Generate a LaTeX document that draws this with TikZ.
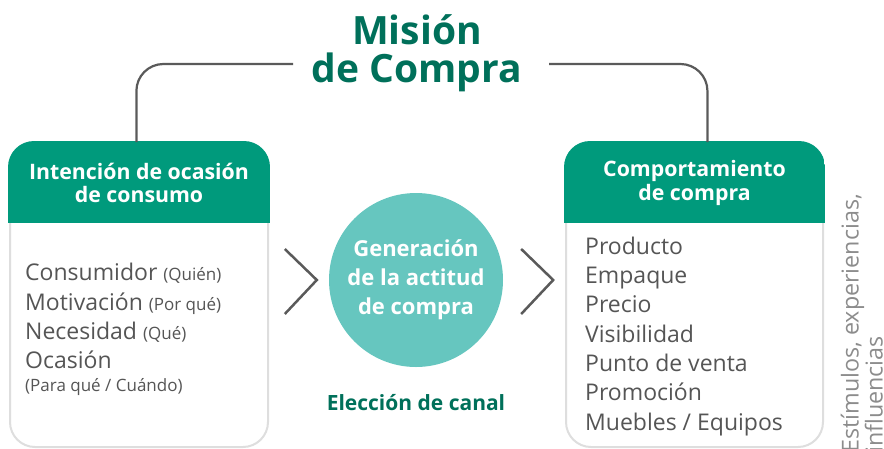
\documentclass[tikz,border=0pt]{standalone}
\usepackage{fontspec}
\setmainfont{Open Sans}
\usetikzlibrary{positioning, calc}
\definecolor{hdrgreen}{HTML}{009A7C}
\definecolor{titlegreen}{HTML}{00705A}
\definecolor{bubblecol}{HTML}{66C6BF}
\definecolor{bodygray}{HTML}{555555}
\definecolor{framegray}{HTML}{DEDEDE}
\definecolor{linegray}{HTML}{5A5A5A}
\definecolor{sidegray}{HTML}{8C8C8C}
\newcommand\smallnote[1]{{\fontsize{17}{20}\selectfont #1}}
\tikzset{
  panel/.style={rectangle,draw=framegray,line width=2pt,rounded corners=25pt,
    fill=white,minimum height=304pt,inner sep=0pt},
  hdrtext/.style={align=center,text=white,inner sep=0pt,
    font=\bfseries\fontsize{21.3}{23.5}\selectfont},
  items/.style={anchor=base west,align=left,inner sep=0pt,text=bodygray,
    font=\fontsize{23}{29.3}\selectfont},
  bubble/.style={circle,fill=bubblecol,minimum size=174pt,inner sep=0pt,
    align=center,text=white,font=\bfseries\fontsize{22}{29}\selectfont},
  title/.style={align=center,text=titlegreen,inner sep=0pt,
    font=\bfseries\fontsize{39}{38}\selectfont},
  side/.style={rotate=90,align=left,inner sep=0pt,text=sidegray,
    font=\fontsize{23.3}{24}\selectfont},
  link/.style={draw=linegray,line width=2.2pt,rounded corners=27pt},
  chev/.style={draw=linegray,line width=2.5pt}
}

\begin{document}
\begin{tikzpicture}[x=1pt,y=-1pt]
\useasboundingbox (0,0) rectangle (884,448);
% panels
\node[panel,minimum width=258pt,anchor=north west] (intent) at (9,142) {};
\node[panel,minimum width=257pt,anchor=north west] (behav) at (565,142) {};
\foreach \p in {intent,behav}{
  \begin{scope}
    \clip[rounded corners=26pt] ($(\p.north west)+(-1,-1)$) rectangle ($(\p.south east)+(1,1)$);
    \fill[hdrgreen] ($(\p.north west)+(-1,-1)$) rectangle ($(\p.north east)+(1,81)$);
  \end{scope}
}
\node[hdrtext] (intenthdr) at ($(intent.north)+(0,41)$) {Intención de ocasión\\de consumo};
\node[hdrtext] (behavhdr) at ($(behav.north)+(0,41)$) {Comportamiento\\de compra};
% lists
\node[items] (intentlist) at (25,391) {Consumidor \smallnote{(Quién)}\\Motivación \smallnote{(Por qué)}\\Necesidad \smallnote{(Qué)}\\Ocasión\\[-7pt]\smallnote{(Para qué / Cuándo)}};
\node[items] (behavlist) at (585,430) {Producto\\Empaque\\Precio\\Visibilidad\\Punto de venta\\Promoción\\Muebles / Equipos};
% middle
\node[bubble] (attitude) at (416,280) {Generación\\de la actitud\\de compra};
\node[below=27pt of attitude,inner sep=0pt,text=titlegreen,
  font=\bfseries\fontsize{21}{24}\selectfont] (canal) {Elección de canal};
\draw[chev] ($(attitude.west)+(-44,-31)$) -- ($(attitude.west)+(-12,0)$) -- ($(attitude.west)+(-44,34)$);
\draw[chev] ($(attitude.east)+(18,-31)$) -- ($(attitude.east)+(50,0)$) -- ($(attitude.east)+(18,34)$);
% title and top links
\node[title] (mision) at (417,53.5) {Misión\\de Compra};
\coordinate (lend) at (293,64);
\coordinate (rend) at (549,64);
\draw[link] ($(intent.north west)!0.49!(intent.north east)$) |- (lend);
\draw[link] ($(behav.north west)!0.55!(behav.north east)$) |- (rend);
% side note
\node[side,anchor=south west] (stimuli) at (883,453) {Estímulos, experiencias,\\influencias};
\end{tikzpicture}
\end{document}
